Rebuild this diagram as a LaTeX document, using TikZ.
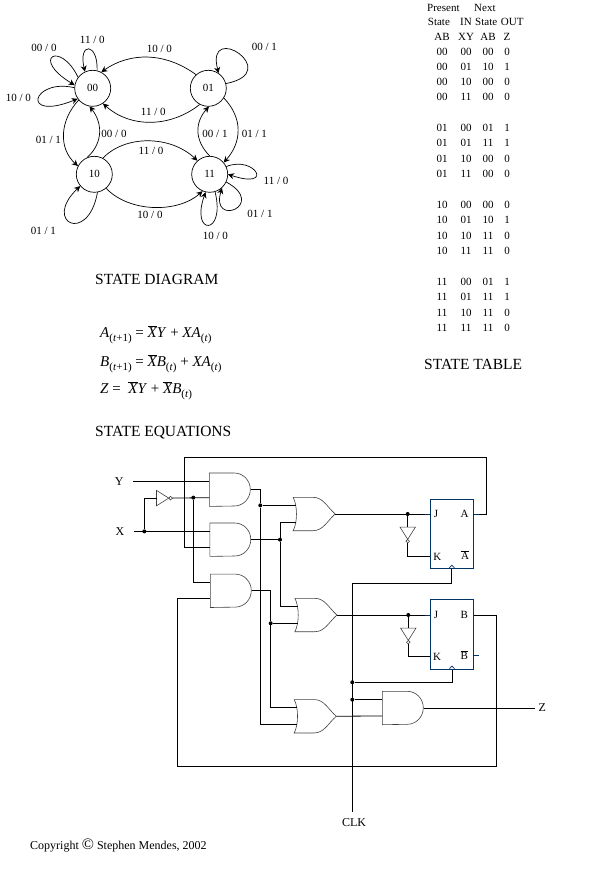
\documentclass[tikz,border=0pt]{standalone}
\usepackage{fontspec}
\setmainfont{Liberation Serif}
\usetikzlibrary{arrows.meta, calc}
\definecolor{ffnavy}{HTML}{003366}
\newcommand{\barred}[1]{$\overline{\mbox{\itshape #1}}$}
\newcommand{\subt}[1]{\raisebox{-4pt}{\fontsize{11}{11}\selectfont(#1)}}
\tikzset{
  statenode/.style={circle, draw, line width=0.7pt, inner sep=0pt, minimum size=36pt, font=\fontsize{11}{13}\selectfont},
  edgeline/.style={line width=0.7pt, -{Stealth[length=6pt,width=6pt]}},
  edgelabel/.style={font=\fontsize{11}{13}\selectfont, inner sep=0pt},
  tabletext/.style={font=\fontsize{11}{13}\selectfont, inner sep=0pt},
  titletext/.style={font=\fontsize{15.5}{17}\selectfont, inner sep=0pt, anchor=west},
  eqtext/.style={font=\fontsize{15}{17}\selectfont, inner sep=0pt, anchor=west},
  gateline/.style={draw=black!75, line width=0.6pt},
  andgate/.style={rectangle, inner sep=0pt, minimum width=41pt, minimum height=33pt,
    append after command={\pgfextra{\let\gatenode\tikzlastnode
      \draw[gateline] (\gatenode.north west) -- ++(25pt,0pt)
        arc[start angle=90, end angle=-90, x radius=16pt, y radius=16.5pt]
        -- (\gatenode.south west) -- cycle;}}},
  orgate/.style={rectangle, inner sep=0pt, minimum width=38.5pt, minimum height=33pt,
    append after command={\pgfextra{\let\gatenode\tikzlastnode
      \draw[gateline] ($(\gatenode.north west)+(-3.2pt,0pt)$) -- ++(20pt,0pt)
        .. controls +(10pt,0pt) and +(-8pt,7pt) .. (\gatenode.east)
        .. controls +(-8pt,-7pt) and +(10pt,0pt) .. ($(\gatenode.south west)+(16.8pt,0pt)$)
        -- ($(\gatenode.south west)+(-3.2pt,0pt)$)
        .. controls +(4.5pt,8pt) and +(4.5pt,-8pt) .. ($(\gatenode.north west)+(-3.2pt,0pt)$);}}},
  invgate/.style={rectangle, inner sep=0pt, minimum width=15.5pt, minimum height=15pt,
    append after command={\pgfextra{\let\gatenode\tikzlastnode
      \draw[gateline] (\gatenode.north west) -- ($(\gatenode.west)!0.77!(\gatenode.east)$)
        -- (\gatenode.south west) -- cycle;
      \draw[gateline, fill=white] ($(\gatenode.west)!0.885!(\gatenode.east)$) circle[radius=1.8pt];}}},
  ffbox/.style={rectangle, draw=ffnavy, line width=0.8pt, inner sep=0pt, minimum width=43pt},
  ffline/.style={draw=ffnavy, line width=0.7pt},
  fflabel/.style={font=\fontsize{11}{13}\selectfont, inner sep=0pt},
  wire/.style={line width=0.8pt},
  jdot/.style={circle, fill, inner sep=0pt, minimum size=4pt},
  sigtext/.style={font=\fontsize{12}{14}\selectfont, inner sep=0pt}
}
\begin{document}
\begin{tikzpicture}[x=1pt, y=-1pt]
  \useasboundingbox (0,0) rectangle (597,873);

  % === STATE DIAGRAM ===
  \node[statenode] (s00) at (92.7,88.3) {00};
  \node[statenode] (s01) at (208.3,88.3) {01};
  \node[statenode] (s10) at (94.3,174.3) {10};
  \node[statenode] (s11) at (209.7,174.3) {11};

  % Transitions between states
  \draw[edgeline] (s01.132) .. controls (165,52) and (130,52) .. (s00.62);
  \draw[edgeline] (s01.242) .. controls (170,128) and (130,128) .. (s00.304);
  \draw[edgeline] (s00.220) .. controls (60,120) and (58,148) .. (s10.153);
  \draw[edgeline] (s10.112) .. controls (104,142) and (102,122) .. (s00.260);
  \draw[edgeline] (s11.90) .. controls (194,140) and (195,122) .. (s01.272);
  \draw[edgeline] (s01.328) .. controls (243,118) and (242,142) .. (s11.40);
  \draw[edgeline] (s10.62) .. controls (125,135) and (170,135) .. (s11.132);
  \draw[edgeline] (s10.310) .. controls (130,213) and (178,213) .. (s11.247);

  % Self loops
  \draw[edgeline] (s00.143) .. controls (60,40) and (30,58) .. (s00.170);
  \draw[edgeline] (s00.76) .. controls (98,42) and (78,42) .. (s00.115);
  \draw[edgeline] (s00.178) .. controls (32,78) and (20,122) .. (s00.215);
  \draw[edgeline] (s01.15) .. controls (285,72) and (205,20) .. (s01.56);
  \draw[edgeline] (s10.280) .. controls (88,245) and (42,222) .. (s10.220);
  \draw[edgeline] (s11.25) .. controls (255,155) and (275,190) .. (s11.0);
  \draw[edgeline] (s11.335) .. controls (268,205) and (210,228) .. (s11.312);
  \draw[edgeline] (s11.287) .. controls (226,236) and (190,236) .. (s11.257);

  % Transition labels
  \foreach \px/\py/\la/\lb [count=\i] in {44/48.3/00/0, 92.3/40/11/0, 18.3/97.7/10/0, 159.3/49.3/10/0,
      264.3/47.3/00/1, 153.3/112.3/11/0, 48.3/140/01/1, 114/134/00/0, 215/134/00/1,
      254.3/134/01/1, 151/151/11/0, 276/181/11/0, 260/214/01/1, 150/215/10/0,
      215.3/236/10/0, 43.3/230.7/01/1} {
    \node[edgelabel] (edge\i) at (\px,\py) {\la{} / \lb};
  }
  \node[titletext] (titleDiagram) at (95,279.5) {STATE DIAGRAM};

  % === STATE TABLE ===
  \node[tabletext, anchor=west] (headPresent) at (427,8) {Present};
  \node[tabletext, anchor=west] (headNext) at (474,8) {Next};
  \node[tabletext, anchor=west] (headState) at (427.7,22) {State};
  \node[tabletext, anchor=west] (headIn) at (460,22) {IN};
  \node[tabletext, anchor=west] (headNstate) at (475,22) {State};
  \node[tabletext, anchor=west] (headOut) at (500.7,22) {OUT};
  \foreach \ry/\ca/\cb/\cc/\cd [count=\i] in {37/AB/XY/AB/Z,
      52/00/00/00/0, 67/00/01/10/1, 82/00/10/00/0, 97/00/11/00/0,
      128/01/00/01/1, 143/01/01/11/1, 159/01/10/00/0, 174/01/11/00/0,
      205/10/00/00/0, 220/10/01/10/1, 236/10/10/11/0, 251/10/11/11/0,
      282/11/00/01/1, 297/11/01/11/1, 313/11/10/11/0, 328/11/11/11/0} {
    \node[tabletext] (rowA\i) at (442,\ry) {\ca};
    \node[tabletext] (rowB\i) at (466,\ry) {\cb};
    \node[tabletext] (rowC\i) at (488,\ry) {\cc};
    \node[tabletext] (rowD\i) at (507,\ry) {\cd};
  }
  \node[titletext] (titleTable) at (424,364.5) {STATE TABLE};

  % === STATE EQUATIONS ===
  \node[eqtext] (eqA) at (100,334.5) {\textit{A}\subt{\textit{t}+1} = \barred{X}\textit{Y} + \textit{XA}\subt{\textit{t}}};
  \node[eqtext] (eqB) at (100,363.5) {\textit{B}\subt{\textit{t}+1} = \barred{X}\textit{B}\subt{\textit{t}} + \textit{XA}\subt{\textit{t}}};
  \node[eqtext] (eqZ) at (100,390.5) {\textit{Z} =\ \ \barred{X}\textit{Y} + \barred{X}\textit{B}\subt{\textit{t}}};
  \node[titletext] (titleEq) at (95,432.5) {STATE EQUATIONS};

  % === CIRCUIT ===
  % Gates
  \node[andgate] (andA) at (230,489.7) {};
  \node[andgate] (andB) at (230.5,539.7) {};
  \node[andgate] (andC) at (231,590.8) {};
  \node[andgate] (andD) at (403,708) {};
  \node[orgate] (orA) at (315.75,514) {};
  \node[orgate] (orB) at (317.5,615) {};
  \node[orgate] (orC) at (316.8,716.25) {};
  \node[invgate] (notX) at (164.45,498.1) {};
  \node[invgate, rotate=-90] (notA) at (407.7,535.05) {};
  \node[invgate, rotate=-90] (notB) at (408.3,636.05) {};

  % Flip-flops
  \node[ffbox, minimum height=69pt] (ffA) at (451.8,533.8) {};
  \node[ffbox, minimum height=70pt] (ffB) at (452,634.3) {};
  \node[fflabel] (pinJa) at (436,514.3) {J};
  \node[fflabel] (pinQa) at (464.7,514) {A};
  \node[fflabel] (pinKa) at (437.3,556.7) {K};
  \node[fflabel] (pinNa) at (465,555) {$\overline{\mbox{A}}$};
  \node[fflabel] (pinJb) at (436,614.7) {J};
  \node[fflabel] (pinQb) at (464.3,615) {B};
  \node[fflabel] (pinKb) at (437,656.7) {K};
  \node[fflabel] (pinNb) at (464.3,655) {$\overline{\mbox{B}}$};

  % Signal names and free wire ends
  \node[sigtext] (lblY) at (119.3,481.7) {Y};
  \node[sigtext] (lblX) at (120,531.7) {X};
  \node[sigtext] (lblZ) at (542.3,708) {Z};
  \node[sigtext] (lblCLK) at (354,822.3) {CLK};
  \coordinate (inY) at (133,0 |- andA.158.1);
  \coordinate (inX) at (134,0 |- andB.158.1);
  \coordinate (outZ) at (535,0 |- andD.east);
  \coordinate (clkEnd) at (352.3,811.7);
  \coordinate (clkTop) at (352.3,583.3);
  \coordinate (loopA) at (486.7,457.3);
  \coordinate (loopB) at (184.3,457.3);
  \coordinate (loopC) at (496.3,766);
  \coordinate (loopD) at (177.3,766);

  % Junctions
  \node[jdot] (jX) at (144.3,0 |- andB.158.1) {};
  \node[jdot] (jN) at (193.3,0 |- andA.201.9) {};
  \node[jdot] (jAo) at (260.3,0 |- orA.156.8) {};
  \node[jdot] (jBo) at (280,0 |- andB.east) {};
  \node[jdot] (jCo) at (270.7,0 |- orB.203.2) {};
  \node[jdot] (jA) at (407.7,0 |- orA.east) {};
  \node[jdot] (jB) at (408.3,0 |- orB.east) {};
  \node[jdot] (jClkB) at (352.3,682.3) {};
  \node[jdot] (jClkD) at (352.3,0 |- andD.158.1) {};

  % Wires
  \draw[wire] (inY) -- (andA.158.1);
  \draw[wire] (inX) -- (andB.158.1);
  \draw[wire] (jX) |- (notX.west);
  \draw[wire] (notX.east) -- (andA.201.9);
  \draw[wire] (jN) |- (andC.158.1);
  \draw[wire] (andA.east) -| (jAo) |- (orC.203.2);
  \draw[wire] (jAo) -- (orA.156.8);
  \draw[wire] (andB.east) -- (jBo);
  \draw[wire] (orA.203.2) -| (jBo) |- (orB.156.8);
  \draw[wire] (andC.east) -| (jCo) -- (orB.203.2);
  \draw[wire] (jCo) |- (orC.156.8);
  \draw[wire] (orA.east) -- (orA.east -| ffA.west);
  \draw[wire] (jA) -- (notA.west);
  \draw[wire] (notA.east) |- (ffA.west |- pinKa);
  \draw[wire] (orB.east) -- (orB.east -| ffB.west);
  \draw[wire] (jB) -- (notB.west);
  \draw[wire] (notB.east) |- (ffB.west |- pinKb);
  \draw[wire] (ffA.east |- pinQa) -| (loopA) -- (loopB) |- (andB.201.9);
  \draw[wire] (ffB.east |- pinQb) -| (loopC) -- (loopD) |- (andC.201.9);
  \draw[wire] (ffA.south) |- (clkTop) -- (clkEnd);
  \draw[wire] (ffB.south) |- (jClkB);
  \draw[wire] (jClkD) -- (andD.158.1);
  \draw[wire] (orC.east) -- (andD.201.9);
  \draw[wire] (andD.east) -- (outZ);

  % Flip-flop pin stubs
  \draw[ffline] (ffA.west |- orA.east) -- ++(-5,0);
  \draw[ffline] (ffA.east |- pinQa) -- ++(5,0);
  \draw[ffline] (ffB.west |- orB.east) -- ++(-5,0);
  \draw[ffline] (ffB.east |- pinNb) -- ++(5,0);
  \draw[ffline] (ffA.south) ++(-2.5,-1) -- ++(2.5,-2.5) -- ++(2.5,2.5);
  \draw[ffline] (ffB.south) ++(-2.5,-1) -- ++(2.5,-2.5) -- ++(2.5,2.5);

  % === COPYRIGHT ===
  \node[tabletext, font=\fontsize{12}{14}\selectfont, anchor=west] (copyText) at (30,845) {Copyright {\fontsize{16}{16}\selectfont\textcopyright} Stephen Mendes, 2002};
\end{tikzpicture}
\end{document}
